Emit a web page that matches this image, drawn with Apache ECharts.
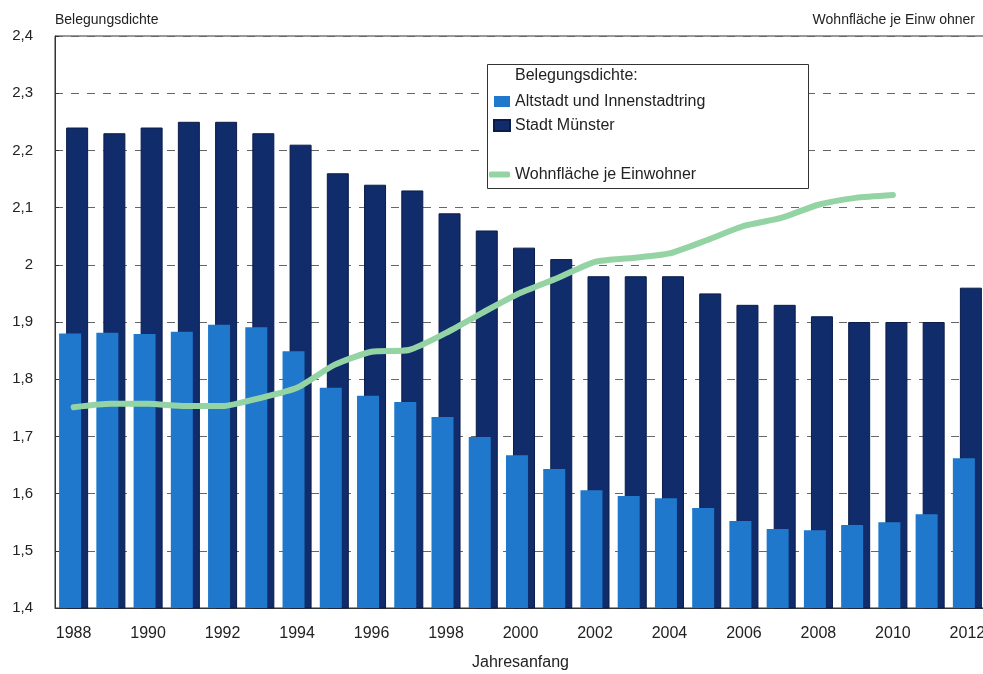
<!DOCTYPE html>
<html>
<head>
<meta charset="utf-8">
<script src="https://cdn.jsdelivr.net/npm/echarts@6/dist/echarts.min.js"></script>
<style>html,body{margin:0;padding:0;background:#fff}#c{width:983px;height:674px}</style>
</head>
<body>
<div id="c"></div>
<script>
var years = ['1988','1989','1990','1991','1992','1993','1994','1995','1996','1997','1998','1999','2000','2001','2002','2003','2004','2005','2006','2007','2008','2009','2010','2011','2012'];
var altstadt = [1.88,1.881,1.879,1.883,1.895,1.891,1.849,1.785,1.771,1.76,1.734,1.699,1.667,1.643,1.606,1.596,1.592,1.575,1.552,1.538,1.536,1.545,1.55,1.564,1.662];
var stadtMuenster = [2.24,2.23,2.24,2.25,2.25,2.23,2.21,2.16,2.14,2.13,2.09,2.06,2.03,2.01,1.98,1.98,1.98,1.95,1.93,1.93,1.91,1.90,1.90,1.90,1.96];
var wohnflaeche = [1.751,1.757,1.757,1.753,1.753,1.767,1.785,1.825,1.848,1.851,1.881,1.917,1.951,1.977,2.005,2.012,2.02,2.043,2.068,2.082,2.105,2.117,2.122,null,null];

var FONT = '"Liberation Sans", Arial, sans-serif';
var chart = echarts.init(document.getElementById('c'), null, {renderer:'canvas'});
chart.setOption({
  animation: false,
  textStyle: {fontFamily: FONT, color: '#222'},
  grid: {left: 55, top: 36, bottom: 66, width: 931, outerBoundsMode: 'none', containLabel: false,
    show: true, borderColor: '#333', borderWidth: 1, backgroundColor: 'transparent'},
  xAxis: {
    type: 'category', data: years,
    axisLine: {lineStyle: {color: '#333', width: 1}},
    axisTick: {show: false},
    axisLabel: {interval: 1, fontSize: 16, color: '#222', margin: 18, fontFamily: FONT, hideOverlap: false},
    name: 'Jahresanfang', nameLocation: 'middle', nameGap: 47,
    nameTextStyle: {fontSize: 16, color: '#222', fontFamily: FONT}
  },
  yAxis: [{
    type: 'value', min: 1.4, max: 2.4, interval: 0.1,
    name: 'Belegungsdichte', nameGap: 9,
    nameTextStyle: {fontSize: 14, color: '#222', align: 'left', fontFamily: FONT},
    axisLine: {show: true, lineStyle: {color: '#333'}},
    axisTick: {show: true, inside: true, length: 4, lineStyle: {color: '#333'}},
    axisLabel: {fontSize: 15, color: '#222', margin: 22, fontFamily: FONT,
      formatter: function (v) { return (Math.round(v * 10) / 10).toString().replace('.', ','); }},
    splitLine: {show: true, lineStyle: {color: '#666', type: [8, 8], width: 1}}
  }, {
    type: 'value', min: 1.4, max: 2.4, position: 'right',
    name: 'Wohnfläche je Einw ohner', nameGap: 9,
    nameTextStyle: {fontSize: 14, color: '#222', align: 'right', padding: [0, 11, 0, 0], fontFamily: FONT},
    axisLine: {show: false}, axisTick: {show: false}, axisLabel: {show: false}, splitLine: {show: false}
  }],
  legend: [{
    data: ['Altstadt und Innenstadtring', 'Stadt Münster'],
    orient: 'vertical', left: 493, top: 93, padding: 0, itemWidth: 16, itemHeight: 11, itemGap: 7,
    icon: 'rect', z: 10,
    textStyle: {fontSize: 16, color: '#222', fontFamily: FONT, lineHeight: 17}
  }, {
    data: [{name: 'Wohnfläche je Einwohner', icon: 'roundRect'}],
    left: 489, top: 166, padding: 0, itemWidth: 21, itemHeight: 6, z: 10,
    textStyle: {fontSize: 16, color: '#222', fontFamily: FONT, lineHeight: 17}
  }],
  graphic: [{
    type: 'rect', left: 487, top: 64, z: 5,
    shape: {width: 321, height: 124},
    style: {fill: '#fff', stroke: '#333', lineWidth: 1}
  }, {
    type: 'text', left: 515, top: 68, z: 10,
    style: {text: 'Belegungsdichte:', fontSize: 16, fill: '#222', fontFamily: FONT}
  }],
  series: [{
    name: 'Altstadt und Innenstadtring', type: 'bar', data: altstadt,
    barWidth: 22, barGap: '-68%', z: 3,
    itemStyle: {color: '#1f78cc'}
  }, {
    name: 'Stadt Münster', type: 'bar', data: stadtMuenster,
    barWidth: 22, z: 2,
    itemStyle: {color: '#102c6a', borderColor: '#0a1d4a', borderWidth: 1}
  }, {
    name: 'Wohnfläche je Einwohner', type: 'line', yAxisIndex: 1, data: wohnflaeche,
    symbol: 'none', smooth: 0.2, z: 4,
    lineStyle: {color: '#94d4a4', width: 6, cap: 'round', join: 'round'},
    itemStyle: {color: '#94d4a4'}
  }]
});
</script>
</body>
</html>
